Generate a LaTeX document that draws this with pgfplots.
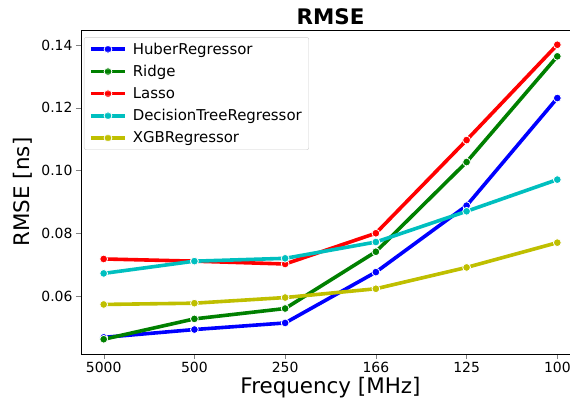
\documentclass[border=0pt]{standalone}
\usepackage{pgfplots}
\pgfplotsset{compat=1.18}
\usepackage{fontspec}
\setmainfont{DejaVu Sans}
\definecolor{mb}{rgb}{0,0,1}
\definecolor{mg}{rgb}{0,0.5,0}
\definecolor{mr}{rgb}{1,0,0}
\definecolor{mc}{rgb}{0,0.75,0.75}
\definecolor{my}{rgb}{0.75,0.75,0}
\begin{document}
\begin{tikzpicture}
\useasboundingbox (-81bp,-55bp) rectangle (489bp,354bp);
\clip (-81bp,-55bp) rectangle (489bp,354bp);
\begin{axis}[
  at={(0,0)}, anchor=south west,
  scale only axis,
  width=499bp, height=324bp,
  xmin=-0.25, xmax=5.25,
  ymin=0.0415, ymax=0.1448,
  xtick={0,1,2,3,4,5},
  xticklabels={5000,500,250,166,125,100},
  ytick={0.06,0.08,0.10,0.12,0.14},
  yticklabel style={/pgf/number format/fixed,/pgf/number format/precision=2,/pgf/number format/fixed zerofill},
  /pgf/number format/assume math mode=true,
  tick label style={font=\fontsize{14}{16}\selectfont},
  tick align=outside, tick pos=left,
  major tick length=5bp,
  axis line style={line width=0.9bp},
  xlabel={Frequency [MHz]},
  ylabel={RMSE [ns]},
  label style={font=\fontsize{21.5}{25}\selectfont},
  xlabel style={yshift=3bp},
  ylabel style={yshift=2bp},
  title={RMSE},
  title style={font=\fontsize{21.5}{25}\selectfont\bfseries, yshift=-4bp},
  legend cell align=left,
  legend style={at={(0.006,0.978)}, anchor=north west, font=\fontsize{15}{17}\selectfont,
    draw=black!20, rounded corners=2bp, fill=white, fill opacity=0.8, text opacity=1,
    row sep=5.5bp, column sep=4bp, inner xsep=5bp, inner ysep=3.5bp},
  legend image code/.code={\draw[mark repeat=2,mark phase=2] plot coordinates {(0bp,0bp)(17bp,0bp)(34bp,0bp)};},
  every axis plot/.append style={line width=3.6bp, mark=*, mark size=3.9bp,
    mark options={draw=white, line width=0.8bp}},
]
\addplot[color=mb] coordinates {(0,0.0468)(1,0.0493)(2,0.0514)(3,0.0676)(4,0.0888)(5,0.1231)};
\addlegendentry{HuberRegressor}
\addplot[color=mg] coordinates {(0,0.0462)(1,0.0527)(2,0.0560)(3,0.0741)(4,0.1027)(5,0.1364)};
\addlegendentry{Ridge}
\addplot[color=mr] coordinates {(0,0.0718)(1,0.0711)(2,0.0702)(3,0.0800)(4,0.1097)(5,0.1401)};
\addlegendentry{Lasso}
\addplot[color=mc] coordinates {(0,0.0672)(1,0.0711)(2,0.0720)(3,0.0772)(4,0.0870)(5,0.0971)};
\addlegendentry{DecisionTreeRegressor}
\addplot[color=my] coordinates {(0,0.0573)(1,0.0577)(2,0.0595)(3,0.0623)(4,0.0691)(5,0.0770)};
\addlegendentry{XGBRegressor}
\end{axis}
\end{tikzpicture}
\end{document}
